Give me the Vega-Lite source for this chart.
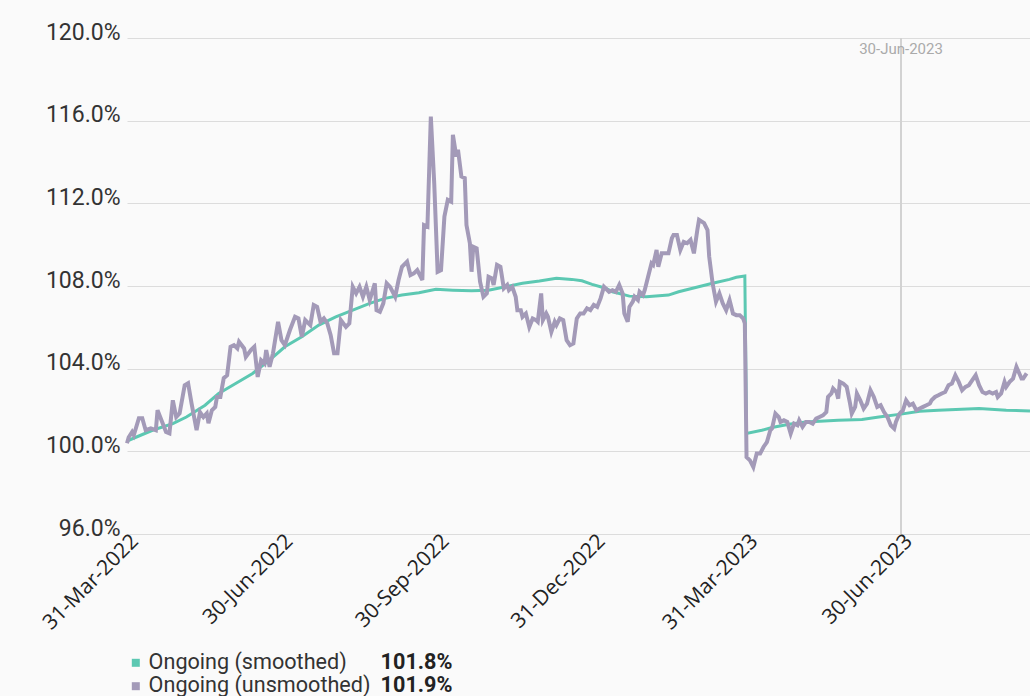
{
  "$schema": "https://vega.github.io/schema/vega-lite/v6.json",
  "width": 903,
  "height": 496,
  "autosize": {"type": "none"},
  "padding": {"left": 127, "top": 38, "right": 0, "bottom": 162},
  "background": "#fafafa",
  "config": {"view": {"stroke": null}, "font": "Roboto"},
  "datasets": {
    "smoothed": [
      {"date": "2022-03-31", "value": 100.5},
      {"date": "2022-04-15", "value": 101.02},
      {"date": "2022-04-27", "value": 101.34},
      {"date": "2022-05-05", "value": 101.66},
      {"date": "2022-05-16", "value": 102.23},
      {"date": "2022-05-24", "value": 102.8},
      {"date": "2022-06-03", "value": 103.28},
      {"date": "2022-06-13", "value": 103.77},
      {"date": "2022-06-23", "value": 104.41},
      {"date": "2022-07-02", "value": 105.06},
      {"date": "2022-07-12", "value": 105.54},
      {"date": "2022-07-22", "value": 106.11},
      {"date": "2022-08-01", "value": 106.51},
      {"date": "2022-08-11", "value": 106.83},
      {"date": "2022-08-21", "value": 107.16},
      {"date": "2022-08-30", "value": 107.4},
      {"date": "2022-09-09", "value": 107.56},
      {"date": "2022-09-19", "value": 107.67},
      {"date": "2022-09-29", "value": 107.84},
      {"date": "2022-10-09", "value": 107.8},
      {"date": "2022-10-20", "value": 107.77},
      {"date": "2022-10-30", "value": 107.8},
      {"date": "2022-11-09", "value": 107.96},
      {"date": "2022-11-19", "value": 108.13},
      {"date": "2022-11-29", "value": 108.24},
      {"date": "2022-12-09", "value": 108.37},
      {"date": "2022-12-18", "value": 108.32},
      {"date": "2022-12-24", "value": 108.25},
      {"date": "2022-12-30", "value": 108.08},
      {"date": "2023-01-07", "value": 107.89},
      {"date": "2023-01-11", "value": 107.72},
      {"date": "2023-01-21", "value": 107.51},
      {"date": "2023-01-31", "value": 107.48},
      {"date": "2023-02-13", "value": 107.56},
      {"date": "2023-02-19", "value": 107.72},
      {"date": "2023-03-01", "value": 107.93},
      {"date": "2023-03-11", "value": 108.13},
      {"date": "2023-03-21", "value": 108.32},
      {"date": "2023-03-25", "value": 108.42},
      {"date": "2023-03-30", "value": 108.48},
      {"date": "2023-03-31", "value": 100.87},
      {"date": "2023-04-09", "value": 101.02},
      {"date": "2023-04-15", "value": 101.15},
      {"date": "2023-04-25", "value": 101.31},
      {"date": "2023-05-05", "value": 101.42},
      {"date": "2023-05-24", "value": 101.5},
      {"date": "2023-06-07", "value": 101.54},
      {"date": "2023-06-17", "value": 101.66},
      {"date": "2023-06-30", "value": 101.8},
      {"date": "2023-07-11", "value": 101.94},
      {"date": "2023-07-22", "value": 101.99},
      {"date": "2023-08-15", "value": 102.07},
      {"date": "2023-08-31", "value": 101.99},
      {"date": "2023-09-14", "value": 101.95}
    ],
    "unsmoothed": [
      {"date": "2022-03-31", "value": 100.39},
      {"date": "2022-04-01", "value": 100.68},
      {"date": "2022-04-03", "value": 100.94},
      {"date": "2022-04-04", "value": 100.78},
      {"date": "2022-04-07", "value": 101.6},
      {"date": "2022-04-09", "value": 101.6},
      {"date": "2022-04-11", "value": 101.02},
      {"date": "2022-04-14", "value": 101.11},
      {"date": "2022-04-17", "value": 101.02},
      {"date": "2022-04-18", "value": 101.99},
      {"date": "2022-04-21", "value": 101.36},
      {"date": "2022-04-23", "value": 100.94},
      {"date": "2022-04-25", "value": 100.87},
      {"date": "2022-04-27", "value": 102.47},
      {"date": "2022-04-29", "value": 101.66},
      {"date": "2022-05-01", "value": 101.84},
      {"date": "2022-05-04", "value": 103.2},
      {"date": "2022-05-06", "value": 103.3},
      {"date": "2022-05-08", "value": 102.33},
      {"date": "2022-05-11", "value": 101.02},
      {"date": "2022-05-13", "value": 101.9},
      {"date": "2022-05-15", "value": 101.66},
      {"date": "2022-05-17", "value": 101.84},
      {"date": "2022-05-18", "value": 101.36},
      {"date": "2022-05-20", "value": 101.99},
      {"date": "2022-05-22", "value": 102.15},
      {"date": "2022-05-23", "value": 102.63},
      {"date": "2022-05-25", "value": 102.63},
      {"date": "2022-05-27", "value": 103.54},
      {"date": "2022-05-29", "value": 103.68},
      {"date": "2022-05-31", "value": 105.06},
      {"date": "2022-06-02", "value": 105.14},
      {"date": "2022-06-04", "value": 104.98},
      {"date": "2022-06-05", "value": 105.3},
      {"date": "2022-06-08", "value": 104.98},
      {"date": "2022-06-09", "value": 104.57},
      {"date": "2022-06-12", "value": 104.9},
      {"date": "2022-06-14", "value": 105.06},
      {"date": "2022-06-16", "value": 103.6},
      {"date": "2022-06-18", "value": 104.41},
      {"date": "2022-06-20", "value": 104.25},
      {"date": "2022-06-21", "value": 104.9},
      {"date": "2022-06-23", "value": 104.09},
      {"date": "2022-06-25", "value": 104.74},
      {"date": "2022-06-28", "value": 106.27},
      {"date": "2022-06-30", "value": 105.38},
      {"date": "2022-07-02", "value": 105.14},
      {"date": "2022-07-05", "value": 105.87},
      {"date": "2022-07-08", "value": 106.51},
      {"date": "2022-07-10", "value": 106.43},
      {"date": "2022-07-12", "value": 105.54},
      {"date": "2022-07-14", "value": 106.35},
      {"date": "2022-07-17", "value": 106.11},
      {"date": "2022-07-19", "value": 107.08},
      {"date": "2022-07-21", "value": 106.99},
      {"date": "2022-07-23", "value": 106.27},
      {"date": "2022-07-25", "value": 106.43},
      {"date": "2022-07-27", "value": 106.19},
      {"date": "2022-07-29", "value": 105.62},
      {"date": "2022-07-31", "value": 104.74},
      {"date": "2022-08-02", "value": 104.74},
      {"date": "2022-08-04", "value": 106.35},
      {"date": "2022-08-07", "value": 106.02},
      {"date": "2022-08-09", "value": 106.19},
      {"date": "2022-08-11", "value": 107.96},
      {"date": "2022-08-13", "value": 107.64},
      {"date": "2022-08-15", "value": 107.96},
      {"date": "2022-08-17", "value": 107.48},
      {"date": "2022-08-19", "value": 107.96},
      {"date": "2022-08-21", "value": 107.32},
      {"date": "2022-08-24", "value": 108.13},
      {"date": "2022-08-25", "value": 106.83},
      {"date": "2022-08-27", "value": 106.75},
      {"date": "2022-08-29", "value": 107.16},
      {"date": "2022-08-31", "value": 108.13},
      {"date": "2022-09-02", "value": 107.96},
      {"date": "2022-09-05", "value": 107.48},
      {"date": "2022-09-07", "value": 108.29},
      {"date": "2022-09-09", "value": 108.93},
      {"date": "2022-09-12", "value": 109.18},
      {"date": "2022-09-14", "value": 108.53},
      {"date": "2022-09-16", "value": 108.61},
      {"date": "2022-09-18", "value": 108.77},
      {"date": "2022-09-21", "value": 108.29},
      {"date": "2022-09-22", "value": 110.95},
      {"date": "2022-09-24", "value": 110.87},
      {"date": "2022-09-26", "value": 116.2},
      {"date": "2022-09-28", "value": 112.98},
      {"date": "2022-09-30", "value": 108.69},
      {"date": "2022-10-02", "value": 108.77},
      {"date": "2022-10-04", "value": 111.36},
      {"date": "2022-10-06", "value": 112.17},
      {"date": "2022-10-08", "value": 112.08},
      {"date": "2022-10-09", "value": 115.32},
      {"date": "2022-10-11", "value": 114.27},
      {"date": "2022-10-12", "value": 114.59},
      {"date": "2022-10-14", "value": 113.3},
      {"date": "2022-10-16", "value": 113.22},
      {"date": "2022-10-17", "value": 110.95},
      {"date": "2022-10-19", "value": 110.07},
      {"date": "2022-10-20", "value": 108.69},
      {"date": "2022-10-21", "value": 109.9},
      {"date": "2022-10-23", "value": 109.82},
      {"date": "2022-10-25", "value": 108.21},
      {"date": "2022-10-27", "value": 107.48},
      {"date": "2022-10-29", "value": 107.64},
      {"date": "2022-10-30", "value": 108.45},
      {"date": "2022-11-01", "value": 108.37},
      {"date": "2022-11-02", "value": 108.05},
      {"date": "2022-11-04", "value": 109.02},
      {"date": "2022-11-06", "value": 108.93},
      {"date": "2022-11-08", "value": 107.89},
      {"date": "2022-11-10", "value": 108.05},
      {"date": "2022-11-11", "value": 107.8},
      {"date": "2022-11-13", "value": 107.96},
      {"date": "2022-11-15", "value": 107.48},
      {"date": "2022-11-16", "value": 106.83},
      {"date": "2022-11-18", "value": 106.83},
      {"date": "2022-11-19", "value": 106.51},
      {"date": "2022-11-21", "value": 106.67},
      {"date": "2022-11-23", "value": 106.02},
      {"date": "2022-11-25", "value": 106.43},
      {"date": "2022-11-27", "value": 106.35},
      {"date": "2022-11-28", "value": 106.27},
      {"date": "2022-11-30", "value": 107.64},
      {"date": "2022-12-01", "value": 106.35},
      {"date": "2022-12-03", "value": 106.67},
      {"date": "2022-12-04", "value": 106.51},
      {"date": "2022-12-06", "value": 105.78},
      {"date": "2022-12-08", "value": 106.27},
      {"date": "2022-12-09", "value": 106.11},
      {"date": "2022-12-11", "value": 106.43},
      {"date": "2022-12-13", "value": 106.35},
      {"date": "2022-12-15", "value": 105.38},
      {"date": "2022-12-17", "value": 105.14},
      {"date": "2022-12-19", "value": 105.22},
      {"date": "2022-12-21", "value": 106.43},
      {"date": "2022-12-23", "value": 106.67},
      {"date": "2022-12-25", "value": 106.67},
      {"date": "2022-12-27", "value": 106.92},
      {"date": "2022-12-29", "value": 106.83},
      {"date": "2022-12-31", "value": 107.08},
      {"date": "2023-01-02", "value": 106.99},
      {"date": "2023-01-04", "value": 107.4},
      {"date": "2023-01-06", "value": 107.96},
      {"date": "2023-01-09", "value": 107.72},
      {"date": "2023-01-11", "value": 107.8},
      {"date": "2023-01-13", "value": 107.72},
      {"date": "2023-01-15", "value": 108.05},
      {"date": "2023-01-17", "value": 107.64},
      {"date": "2023-01-18", "value": 106.67},
      {"date": "2023-01-20", "value": 106.27},
      {"date": "2023-01-21", "value": 106.99},
      {"date": "2023-01-23", "value": 107.24},
      {"date": "2023-01-24", "value": 107.48},
      {"date": "2023-01-26", "value": 107.32},
      {"date": "2023-01-27", "value": 107.72},
      {"date": "2023-01-29", "value": 107.56},
      {"date": "2023-01-30", "value": 107.8},
      {"date": "2023-02-01", "value": 108.45},
      {"date": "2023-02-03", "value": 109.1},
      {"date": "2023-02-04", "value": 109.02},
      {"date": "2023-02-06", "value": 109.74},
      {"date": "2023-02-07", "value": 108.93},
      {"date": "2023-02-09", "value": 109.58},
      {"date": "2023-02-11", "value": 109.58},
      {"date": "2023-02-13", "value": 109.58},
      {"date": "2023-02-15", "value": 110.31},
      {"date": "2023-02-16", "value": 110.47},
      {"date": "2023-02-18", "value": 110.47},
      {"date": "2023-02-20", "value": 109.74},
      {"date": "2023-02-22", "value": 110.14},
      {"date": "2023-02-24", "value": 110.07},
      {"date": "2023-02-26", "value": 110.23},
      {"date": "2023-02-28", "value": 109.58},
      {"date": "2023-03-02", "value": 110.71},
      {"date": "2023-03-03", "value": 111.2},
      {"date": "2023-03-06", "value": 111.04},
      {"date": "2023-03-08", "value": 110.71},
      {"date": "2023-03-09", "value": 109.42},
      {"date": "2023-03-11", "value": 108.13},
      {"date": "2023-03-13", "value": 107.24},
      {"date": "2023-03-15", "value": 107.64},
      {"date": "2023-03-17", "value": 107.16},
      {"date": "2023-03-19", "value": 106.83},
      {"date": "2023-03-21", "value": 107.32},
      {"date": "2023-03-23", "value": 106.67},
      {"date": "2023-03-25", "value": 106.59},
      {"date": "2023-03-27", "value": 106.59},
      {"date": "2023-03-29", "value": 106.43},
      {"date": "2023-03-30", "value": 106.19},
      {"date": "2023-03-31", "value": 99.72},
      {"date": "2023-04-02", "value": 99.56},
      {"date": "2023-04-04", "value": 99.24},
      {"date": "2023-04-06", "value": 99.89},
      {"date": "2023-04-08", "value": 99.89},
      {"date": "2023-04-10", "value": 100.21},
      {"date": "2023-04-12", "value": 100.45},
      {"date": "2023-04-14", "value": 101.02},
      {"date": "2023-04-15", "value": 101.1},
      {"date": "2023-04-17", "value": 101.83},
      {"date": "2023-04-19", "value": 101.66},
      {"date": "2023-04-20", "value": 101.42},
      {"date": "2023-04-22", "value": 101.5},
      {"date": "2023-04-24", "value": 101.42},
      {"date": "2023-04-26", "value": 100.86},
      {"date": "2023-04-28", "value": 101.34},
      {"date": "2023-04-30", "value": 101.26},
      {"date": "2023-05-01", "value": 101.5},
      {"date": "2023-05-03", "value": 101.18},
      {"date": "2023-05-05", "value": 101.42},
      {"date": "2023-05-07", "value": 101.42},
      {"date": "2023-05-09", "value": 101.34},
      {"date": "2023-05-11", "value": 101.58},
      {"date": "2023-05-13", "value": 101.66},
      {"date": "2023-05-15", "value": 101.74},
      {"date": "2023-05-17", "value": 101.9},
      {"date": "2023-05-18", "value": 102.63},
      {"date": "2023-05-20", "value": 102.8},
      {"date": "2023-05-21", "value": 103.04},
      {"date": "2023-05-23", "value": 102.87},
      {"date": "2023-05-24", "value": 102.55},
      {"date": "2023-05-25", "value": 103.36},
      {"date": "2023-05-27", "value": 103.28},
      {"date": "2023-05-29", "value": 103.12},
      {"date": "2023-05-31", "value": 102.31},
      {"date": "2023-06-01", "value": 101.83},
      {"date": "2023-06-03", "value": 102.15},
      {"date": "2023-06-04", "value": 102.8},
      {"date": "2023-06-06", "value": 102.47},
      {"date": "2023-06-08", "value": 102.07},
      {"date": "2023-06-10", "value": 102.31},
      {"date": "2023-06-12", "value": 102.96},
      {"date": "2023-06-14", "value": 102.63},
      {"date": "2023-06-16", "value": 102.15},
      {"date": "2023-06-18", "value": 102.23},
      {"date": "2023-06-20", "value": 101.9},
      {"date": "2023-06-22", "value": 101.66},
      {"date": "2023-06-24", "value": 101.26},
      {"date": "2023-06-26", "value": 101.1},
      {"date": "2023-06-27", "value": 101.42},
      {"date": "2023-06-29", "value": 101.8},
      {"date": "2023-06-30", "value": 101.9},
      {"date": "2023-07-01", "value": 101.95},
      {"date": "2023-07-03", "value": 102.47},
      {"date": "2023-07-05", "value": 102.23},
      {"date": "2023-07-07", "value": 102.31},
      {"date": "2023-07-09", "value": 101.99},
      {"date": "2023-07-11", "value": 102.07},
      {"date": "2023-07-13", "value": 102.15},
      {"date": "2023-07-15", "value": 102.23},
      {"date": "2023-07-17", "value": 102.31},
      {"date": "2023-07-18", "value": 102.47},
      {"date": "2023-07-20", "value": 102.63},
      {"date": "2023-07-22", "value": 102.71},
      {"date": "2023-07-24", "value": 102.8},
      {"date": "2023-07-26", "value": 102.87},
      {"date": "2023-07-28", "value": 103.2},
      {"date": "2023-07-30", "value": 103.28},
      {"date": "2023-08-01", "value": 103.68},
      {"date": "2023-08-03", "value": 103.36},
      {"date": "2023-08-05", "value": 102.96},
      {"date": "2023-08-07", "value": 103.12},
      {"date": "2023-08-09", "value": 103.2},
      {"date": "2023-08-11", "value": 103.44},
      {"date": "2023-08-13", "value": 103.68},
      {"date": "2023-08-15", "value": 103.2},
      {"date": "2023-08-17", "value": 102.87},
      {"date": "2023-08-19", "value": 102.8},
      {"date": "2023-08-21", "value": 102.87},
      {"date": "2023-08-23", "value": 102.8},
      {"date": "2023-08-25", "value": 102.87},
      {"date": "2023-08-26", "value": 102.63},
      {"date": "2023-08-28", "value": 102.8},
      {"date": "2023-08-30", "value": 103.36},
      {"date": "2023-08-31", "value": 103.12},
      {"date": "2023-09-02", "value": 103.36},
      {"date": "2023-09-04", "value": 103.52},
      {"date": "2023-09-06", "value": 104.09},
      {"date": "2023-09-09", "value": 103.52},
      {"date": "2023-09-10", "value": 103.52},
      {"date": "2023-09-12", "value": 103.77}
    ],
    "hover": [
      {"date": "2023-06-30", "tag": "30-Jun-2023", "series": "Ongoing (smoothed)", "value": 101.8, "label": "101.8%"},
      {"date": "2023-06-30", "tag": "30-Jun-2023", "series": "Ongoing (unsmoothed)", "value": 101.9, "label": "101.9%"}
    ]
  },
  "layer": [
    {
      "data": {"name": "hover"},
      "transform": [{"filter": "datum.series == 'Ongoing (smoothed)'"}],
      "mark": {"type": "rule", "color": "#d2d2d2", "strokeWidth": 2},
      "encoding": {
        "x": {"field": "date", "type": "temporal", "scale": {"type": "utc", "domain": [{"year": 2022, "month": 3, "date": 31, "utc": true}, {"year": 2023, "month": 9, "date": 14, "utc": true}]}}
      }
    },
    {
      "data": {"name": "hover"},
      "transform": [{"filter": "datum.series == 'Ongoing (smoothed)'"}],
      "mark": {"type": "text", "font": "Roboto", "fontSize": 15, "color": "#aaaaaa", "baseline": "alphabetic", "align": "center", "dy": 16},
      "encoding": {
        "x": {"field": "date", "type": "temporal"},
        "y": {"datum": 120, "type": "quantitative"},
        "text": {"field": "tag", "type": "nominal"}
      }
    },
    {
      "data": {"name": "smoothed"},
      "mark": {"type": "line", "strokeWidth": 3},
      "encoding": {
        "x": {
          "field": "date",
          "type": "temporal",
          "scale": {"type": "utc", "domain": [{"year": 2022, "month": 3, "date": 31, "utc": true}, {"year": 2023, "month": 9, "date": 14, "utc": true}]},
          "axis": {
            "values": [
              {"year": 2022, "month": 3, "date": 31, "utc": true},
              {"year": 2022, "month": 6, "date": 30, "utc": true},
              {"year": 2022, "month": 9, "date": 30, "utc": true},
              {"year": 2022, "month": 12, "date": 31, "utc": true},
              {"year": 2023, "month": 3, "date": 31, "utc": true},
              {"year": 2023, "month": 6, "date": 30, "utc": true}
            ],
            "labelExpr": "utcFormat(datum.value, '%d-%b-%Y')",
            "labelAngle": -45,
            "labelFont": "Open Sans",
            "labelFontSize": 21,
            "labelColor": "#222222",
            "labelPadding": -4,
            "labelOverlap": false,
            "labelBound": false,
            "labelFlush": false,
            "domain": false,
            "ticks": false,
            "grid": false,
            "title": null
          }
        },
        "y": {
          "field": "value",
          "type": "quantitative",
          "scale": {"domain": [96, 120], "nice": false, "zero": false},
          "axis": {
            "values": [96, 100, 104, 108, 112, 116, 120],
            "labelExpr": "format(datum.value, '.1f') + '%'",
            "labelFont": "Roboto",
            "labelFontSize": 23,
            "labelColor": "#333333",
            "labelPadding": 7,
            "labelBaseline": "alphabetic",
            "labelOffset": 1,
            "domain": false,
            "ticks": false,
            "grid": true,
            "gridColor": "#dcdcdc",
            "gridWidth": 1,
            "title": null
          }
        },
        "color": {
          "datum": "Ongoing (smoothed)",
          "type": "nominal",
          "scale": {"domain": ["Ongoing (smoothed)", "Ongoing (unsmoothed)"], "range": ["#5cc8b2", "#a39ab8"]},
          "legend": {
            "orient": "none",
            "legendX": -2,
            "legendY": 614,
            "title": null,
            "padding": 0,
            "symbolType": "square",
            "symbolSize": 64,
            "symbolStrokeWidth": 0,
            "labelFont": "Roboto",
            "labelFontSize": 21.6,
            "labelColor": "#333333",
            "labelLimit": 400,
            "labelOffset": 2,
            "rowPadding": 0.4,
            "encode": {"symbols": {"update": {"fill": {"scale": "color", "field": "value"}, "opacity": {"value": 1}}}}
          }
        }
      }
    },
    {
      "data": {"name": "unsmoothed"},
      "mark": {"type": "line", "strokeWidth": 4},
      "encoding": {
        "x": {"field": "date", "type": "temporal"},
        "y": {"field": "value", "type": "quantitative"},
        "color": {"datum": "Ongoing (unsmoothed)", "type": "nominal"}
      }
    },
    {
      "data": {"name": "hover"},
      "mark": {"type": "point", "opacity": 0},
      "encoding": {
        "x": {"field": "date", "type": "temporal"},
        "y": {"field": "value", "type": "quantitative"},
        "shape": {
          "field": "label",
          "type": "nominal",
          "legend": {
            "orient": "none",
            "legendX": 232,
            "legendY": 614,
            "title": null,
            "padding": 0,
            "symbolSize": 0,
            "symbolOpacity": 0,
            "symbolStrokeWidth": 0,
            "labelOffset": 0,
            "labelFont": "Roboto",
            "labelFontSize": 21.6,
            "labelFontWeight": "bold",
            "labelColor": "#222222",
            "rowPadding": 0.4
          }
        }
      }
    }
  ]
}
